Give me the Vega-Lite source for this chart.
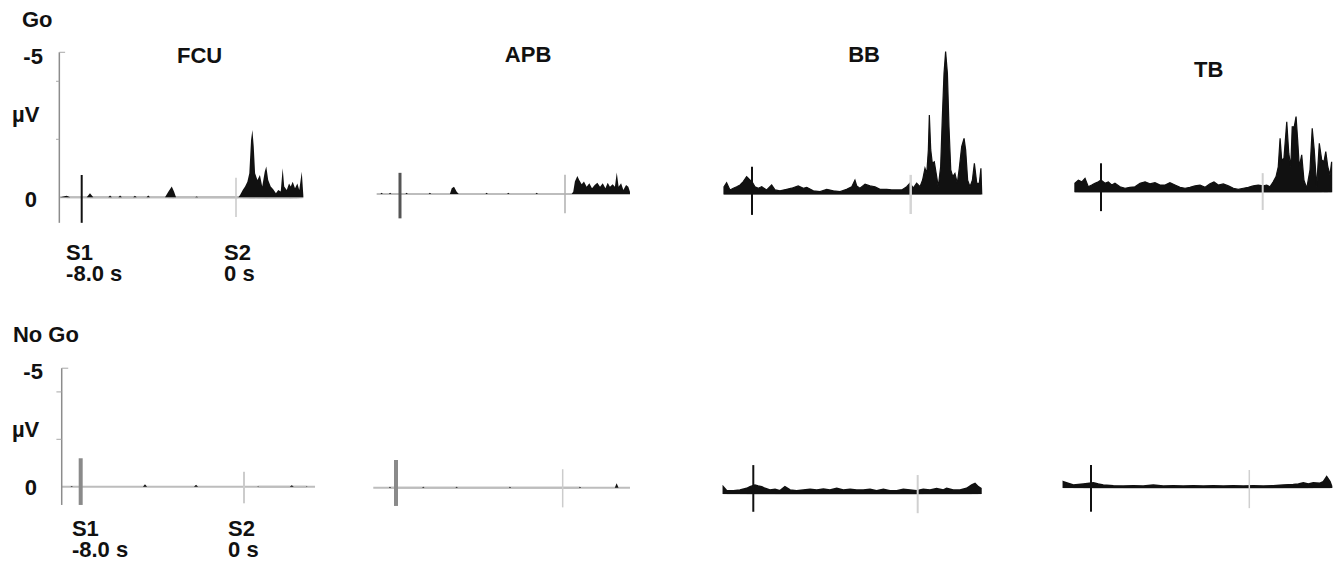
{
"$schema": "https://vega.github.io/schema/vega-lite/v6.json",
"padding": 0,
"background": "white",
"config": {"view": {"stroke": null}, "text": {"font": "Liberation Sans", "fontWeight": "bold", "fontSize": 22, "baseline": "middle", "color": "#111111", "lineHeight": 21}},
"datasets": {
"goFCU": [{"t":-9.125,"v":0},{"t":-8.78,"v":-0.05},{"t":-8.6,"v":0},{"t":-7.74,"v":0},{"t":-7.57,"v":-0.14},{"t":-7.4,"v":0},{"t":-6.62,"v":0},{"t":-6.53,"v":-0.06},{"t":-6.44,"v":0},{"t":-6.1,"v":0},{"t":-6.01,"v":-0.06},{"t":-5.92,"v":0},{"t":-5.33,"v":0},{"t":-5.24,"v":-0.05},{"t":-5.15,"v":0},{"t":-4.64,"v":0},{"t":-4.55,"v":-0.06},{"t":-4.46,"v":0},{"t":-3.68,"v":0},{"t":-3.51,"v":-0.19},{"t":-3.33,"v":-0.37},{"t":-3.21,"v":-0.19},{"t":-3.11,"v":0},{"t":-2.12,"v":0},{"t":-2.04,"v":-0.03},{"t":-1.96,"v":0},{"t":0.12,"v":0},{"t":0.21,"v":-0.08},{"t":0.35,"v":-0.25},{"t":0.47,"v":-0.37},{"t":0.59,"v":-0.54},{"t":0.69,"v":-0.83},{"t":0.78,"v":-1.98},{"t":0.85,"v":-2.32},{"t":0.92,"v":-1.75},{"t":0.99,"v":-0.83},{"t":1.11,"v":-0.6},{"t":1.24,"v":-0.77},{"t":1.36,"v":-0.37},{"t":1.49,"v":-0.88},{"t":1.57,"v":-1.06},{"t":1.67,"v":-0.6},{"t":1.8,"v":-0.37},{"t":1.93,"v":-0.28},{"t":2.07,"v":-0.14},{"t":2.19,"v":-0.25},{"t":2.32,"v":-0.2},{"t":2.42,"v":-1.0},{"t":2.5,"v":-0.37},{"t":2.63,"v":-0.25},{"t":2.75,"v":-0.48},{"t":2.84,"v":-0.37},{"t":2.94,"v":-0.54},{"t":3.06,"v":-0.31},{"t":3.18,"v":-0.48},{"t":3.28,"v":-0.25},{"t":3.41,"v":-0.88},{"t":3.49,"v":-0.08}],
"goAPB": [{"t":-9.13,"v":0},{"t":-8.95,"v":0},{"t":-8.89,"v":-0.04},{"t":-8.83,"v":0},{"t":-8.54,"v":0},{"t":-8.48,"v":-0.04},{"t":-8.42,"v":0},{"t":-7.74,"v":0},{"t":-7.68,"v":-0.04},{"t":-7.62,"v":0},{"t":-6.61,"v":0},{"t":-6.55,"v":-0.04},{"t":-6.49,"v":0},{"t":-5.58,"v":0},{"t":-5.49,"v":-0.2},{"t":-5.38,"v":-0.25},{"t":-5.25,"v":-0.08},{"t":-5.15,"v":0},{"t":-3.86,"v":0},{"t":-3.8,"v":-0.04},{"t":-3.74,"v":0},{"t":-2.81,"v":0},{"t":-2.75,"v":-0.04},{"t":-2.69,"v":0},{"t":-1.43,"v":0},{"t":-1.37,"v":-0.04},{"t":-1.31,"v":0},{"t":0.32,"v":0},{"t":0.4,"v":-0.08},{"t":0.48,"v":-0.43},{"t":0.6,"v":-0.62},{"t":0.69,"v":-0.48},{"t":0.81,"v":-0.34},{"t":0.92,"v":-0.43},{"t":1.05,"v":-0.25},{"t":1.18,"v":-0.37},{"t":1.31,"v":-0.2},{"t":1.44,"v":-0.31},{"t":1.57,"v":-0.39},{"t":1.7,"v":-0.25},{"t":1.83,"v":-0.37},{"t":1.96,"v":-0.2},{"t":2.07,"v":-0.39},{"t":2.18,"v":-0.25},{"t":2.31,"v":-0.34},{"t":2.42,"v":-0.25},{"t":2.51,"v":-0.74},{"t":2.6,"v":-0.25},{"t":2.72,"v":-0.37},{"t":2.83,"v":-0.14},{"t":2.96,"v":-0.31},{"t":3.07,"v":-0.25},{"t":3.15,"v":-0.08}],
"goBB": [{"t":-9.41,"v":-0.25},{"t":-9.28,"v":-0.39},{"t":-9.11,"v":-0.14},{"t":-8.94,"v":-0.2},{"t":-8.77,"v":-0.25},{"t":-8.6,"v":-0.31},{"t":-8.44,"v":-0.43},{"t":-8.27,"v":-0.6},{"t":-8.18,"v":-0.54},{"t":-8.1,"v":-0.48},{"t":-8.0,"v":-0.43},{"t":-7.85,"v":-0.25},{"t":-7.68,"v":-0.2},{"t":-7.51,"v":-0.25},{"t":-7.26,"v":-0.14},{"t":-7.01,"v":-0.31},{"t":-6.84,"v":-0.14},{"t":-6.59,"v":-0.11},{"t":-6.25,"v":-0.16},{"t":-6.0,"v":-0.2},{"t":-5.67,"v":-0.28},{"t":-5.41,"v":-0.2},{"t":-5.24,"v":-0.23},{"t":-4.91,"v":-0.11},{"t":-4.57,"v":-0.08},{"t":-4.23,"v":-0.16},{"t":-3.9,"v":-0.11},{"t":-3.56,"v":-0.08},{"t":-3.23,"v":-0.16},{"t":-2.97,"v":-0.25},{"t":-2.81,"v":-0.48},{"t":-2.72,"v":-0.28},{"t":-2.56,"v":-0.2},{"t":-2.3,"v":-0.34},{"t":-2.05,"v":-0.28},{"t":-1.8,"v":-0.25},{"t":-1.55,"v":-0.16},{"t":-1.21,"v":-0.16},{"t":-0.96,"v":-0.14},{"t":-0.71,"v":-0.14},{"t":-0.45,"v":-0.14},{"t":-0.2,"v":-0.25},{"t":-0.04,"v":-0.37},{"t":0.13,"v":-0.2},{"t":0.3,"v":-0.37},{"t":0.47,"v":-0.25},{"t":0.6,"v":-0.48},{"t":0.72,"v":-0.89},{"t":0.81,"v":-0.71},{"t":0.89,"v":-1.52},{"t":0.94,"v":-2.72},{"t":1.01,"v":-1.52},{"t":1.09,"v":-1.06},{"t":1.19,"v":-1.11},{"t":1.31,"v":-0.6},{"t":1.39,"v":-0.25},{"t":1.51,"v":-0.94},{"t":1.59,"v":-2.55},{"t":1.68,"v":-4.16},{"t":1.76,"v":-4.91},{"t":1.85,"v":-4.16},{"t":1.93,"v":-2.32},{"t":2.02,"v":-0.83},{"t":2.12,"v":-0.6},{"t":2.23,"v":-0.71},{"t":2.35,"v":-0.37},{"t":2.45,"v":-0.89},{"t":2.57,"v":-1.63},{"t":2.69,"v":-1.92},{"t":2.77,"v":-1.52},{"t":2.87,"v":-0.48},{"t":2.99,"v":-0.25},{"t":3.11,"v":-0.48},{"t":3.21,"v":-1.06},{"t":3.33,"v":-0.37},{"t":3.46,"v":-0.37},{"t":3.54,"v":-0.89},{"t":3.58,"v":-0.02}],
"goTB": [{"t":-9.29,"v":-0.29},{"t":-9.12,"v":-0.4},{"t":-8.95,"v":-0.34},{"t":-8.79,"v":-0.46},{"t":-8.63,"v":-0.17},{"t":-8.46,"v":-0.23},{"t":-8.3,"v":-0.29},{"t":-8.13,"v":-0.34},{"t":-8.0,"v":-0.4},{"t":-7.8,"v":-0.29},{"t":-7.64,"v":-0.34},{"t":-7.47,"v":-0.23},{"t":-7.31,"v":-0.29},{"t":-7.06,"v":-0.17},{"t":-6.81,"v":-0.12},{"t":-6.57,"v":-0.15},{"t":-6.32,"v":-0.17},{"t":-6.07,"v":-0.29},{"t":-5.82,"v":-0.34},{"t":-5.58,"v":-0.27},{"t":-5.33,"v":-0.31},{"t":-5.08,"v":-0.23},{"t":-4.83,"v":-0.23},{"t":-4.59,"v":-0.31},{"t":-4.34,"v":-0.23},{"t":-4.09,"v":-0.15},{"t":-3.84,"v":-0.12},{"t":-3.6,"v":-0.15},{"t":-3.35,"v":-0.2},{"t":-3.1,"v":-0.23},{"t":-2.85,"v":-0.15},{"t":-2.61,"v":-0.27},{"t":-2.41,"v":-0.34},{"t":-2.2,"v":-0.23},{"t":-1.95,"v":-0.27},{"t":-1.7,"v":-0.2},{"t":-1.45,"v":-0.12},{"t":-1.21,"v":-0.08},{"t":-0.96,"v":-0.12},{"t":-0.71,"v":-0.15},{"t":-0.47,"v":-0.2},{"t":-0.22,"v":-0.23},{"t":0.03,"v":-0.2},{"t":0.2,"v":-0.23},{"t":0.36,"v":-0.17},{"t":0.52,"v":-0.34},{"t":0.66,"v":-0.52},{"t":0.77,"v":-0.86},{"t":0.86,"v":-1.84},{"t":0.94,"v":-1.09},{"t":1.05,"v":-1.15},{"t":1.19,"v":-2.41},{"t":1.29,"v":-1.32},{"t":1.39,"v":-0.86},{"t":1.46,"v":-2.24},{"t":1.56,"v":-2.24},{"t":1.65,"v":-2.59},{"t":1.73,"v":-1.78},{"t":1.81,"v":-0.86},{"t":1.93,"v":-1.27},{"t":2.04,"v":-0.4},{"t":2.18,"v":-0.12},{"t":2.34,"v":-0.75},{"t":2.45,"v":-2.19},{"t":2.55,"v":-1.44},{"t":2.67,"v":-0.17},{"t":2.8,"v":-1.67},{"t":2.92,"v":-1.09},{"t":3.03,"v":-1.03},{"t":3.12,"v":-1.38},{"t":3.22,"v":-0.86},{"t":3.33,"v":-0.58},{"t":3.41,"v":-1.03}],
"ngFCU": [{"t":-8.92,"v":0},{"t":-8.5,"v":0},{"t":-8.44,"v":-0.03},{"t":-8.38,"v":0},{"t":-4.95,"v":0},{"t":-4.85,"v":-0.1},{"t":-4.75,"v":0},{"t":-2.45,"v":0},{"t":-2.35,"v":-0.08},{"t":-2.25,"v":0},{"t":0.64,"v":0},{"t":0.69,"v":-0.02},{"t":0.74,"v":0},{"t":2.24,"v":0},{"t":2.34,"v":-0.06},{"t":2.44,"v":0},{"t":3.02,"v":0},{"t":3.07,"v":-0.02},{"t":3.12,"v":0},{"t":3.48,"v":0}],
"ngAPB": [{"t":-9.09,"v":0},{"t":-8.35,"v":0},{"t":-8.29,"v":-0.04},{"t":-8.23,"v":0},{"t":-6.75,"v":0},{"t":-6.69,"v":-0.04},{"t":-6.63,"v":0},{"t":-5.15,"v":0},{"t":-5.09,"v":-0.04},{"t":-5.03,"v":0},{"t":-2.59,"v":0},{"t":-2.53,"v":-0.04},{"t":-2.47,"v":0},{"t":0.77,"v":0},{"t":0.83,"v":-0.04},{"t":0.89,"v":0},{"t":2.5,"v":0},{"t":2.59,"v":-0.19},{"t":2.68,"v":0},{"t":3.23,"v":0}],
"ngBB": [{"t":-9.46,"v":-0.28},{"t":-9.29,"v":-0.11},{"t":-8.97,"v":-0.11},{"t":-8.65,"v":-0.14},{"t":-8.32,"v":-0.21},{"t":-8.16,"v":-0.28},{"t":-7.92,"v":-0.35},{"t":-7.76,"v":-0.31},{"t":-7.59,"v":-0.28},{"t":-7.43,"v":-0.21},{"t":-7.19,"v":-0.14},{"t":-6.94,"v":-0.17},{"t":-6.7,"v":-0.11},{"t":-6.46,"v":-0.28},{"t":-6.21,"v":-0.14},{"t":-5.89,"v":-0.11},{"t":-5.57,"v":-0.14},{"t":-5.24,"v":-0.17},{"t":-4.91,"v":-0.14},{"t":-4.59,"v":-0.18},{"t":-4.27,"v":-0.14},{"t":-3.94,"v":-0.21},{"t":-3.62,"v":-0.14},{"t":-3.29,"v":-0.17},{"t":-2.97,"v":-0.14},{"t":-2.65,"v":-0.14},{"t":-2.32,"v":-0.17},{"t":-2.0,"v":-0.11},{"t":-1.67,"v":-0.17},{"t":-1.35,"v":-0.11},{"t":-1.02,"v":-0.11},{"t":-0.7,"v":-0.17},{"t":-0.37,"v":-0.14},{"t":-0.05,"v":-0.11},{"t":0.27,"v":-0.17},{"t":0.6,"v":-0.14},{"t":0.92,"v":-0.2},{"t":1.25,"v":-0.14},{"t":1.41,"v":-0.21},{"t":1.73,"v":-0.14},{"t":2.06,"v":-0.14},{"t":2.38,"v":-0.21},{"t":2.63,"v":-0.35},{"t":2.79,"v":-0.42},{"t":2.95,"v":-0.28},{"t":3.08,"v":-0.21}],
"ngTB": [{"t":-9.4,"v":-0.24},{"t":-8.89,"v":-0.1},{"t":-8.39,"v":-0.14},{"t":-7.88,"v":-0.19},{"t":-7.63,"v":-0.14},{"t":-7.38,"v":-0.1},{"t":-6.87,"v":-0.07},{"t":-6.37,"v":-0.05},{"t":-5.86,"v":-0.07},{"t":-5.36,"v":-0.05},{"t":-4.85,"v":-0.1},{"t":-4.35,"v":-0.05},{"t":-3.84,"v":-0.07},{"t":-3.34,"v":-0.05},{"t":-2.83,"v":-0.07},{"t":-2.32,"v":-0.05},{"t":-1.82,"v":-0.07},{"t":-1.31,"v":-0.05},{"t":-0.81,"v":-0.07},{"t":-0.3,"v":-0.05},{"t":0.2,"v":-0.07},{"t":0.71,"v":-0.05},{"t":1.21,"v":-0.07},{"t":1.72,"v":-0.1},{"t":2.22,"v":-0.12},{"t":2.48,"v":-0.14},{"t":2.73,"v":-0.19},{"t":2.98,"v":-0.14},{"t":3.23,"v":-0.19},{"t":3.57,"v":-0.17},{"t":3.74,"v":-0.24},{"t":3.91,"v":-0.45},{"t":4.08,"v":-0.24},{"t":4.16,"v":-0.05}]
},
"columns": 4,
"spacing": 0,
"align": "each",
"bounds": "flush",
"resolve": {"scale": {"x": "independent", "y": "independent"}},
"concat": [
{"width": 340, "height": 300,
 "encoding": {"x": {"field": "t", "type": "quantitative", "scale": {"domain": [-12.236, 5.392], "nice": false, "zero": false}, "axis": null},
              "y": {"field": "v", "type": "quantitative", "scale": {"domain": [-6.803, 3.541], "nice": false, "zero": false, "reverse": true}, "axis": null}},
 "layer": [
  {"data": {"name": "goFCU"}, "mark": {"type": "rule", "color": "#bdbdbd", "strokeWidth": 2}, "encoding": {"x": {"aggregate": "min", "field": "t", "type": "quantitative", "axis": null}, "x2": {"aggregate": "max", "field": "t"}, "y": {"datum": 0, "type": "quantitative", "axis": null}}},
  {"data": {"name": "goFCU"}, "mark": {"type": "area", "color": "#111111"}, "encoding": {"y2": {"datum": 0}}},
  {"data": {"values": [{"t": -9.16, "v": -5, "v2": 0.88}]}, "mark": {"type": "rule", "color": "#8c8c8c", "strokeWidth": 1.5}, "encoding": {"y2": {"field": "v2"}}},
  {"data": {"values": [{"t": -9.16, "t2": -8.86, "v": -5}, {"t": -9.33, "t2": -9.16, "v": -4}, {"t": -9.33, "t2": -9.16, "v": -2}]}, "mark": {"type": "rule", "color": "#a8a8a8", "strokeWidth": 1}, "encoding": {"x2": {"field": "t2"}}},
  {"data": {"values": [{"t": -8, "v": -0.77, "v2": 0.88}]}, "mark": {"type": "rule", "color": "#111111", "strokeWidth": 2}, "encoding": {"y2": {"field": "v2"}}},
  {"data": {"values": [{"t": 0, "v": -0.67, "v2": 0.68}]}, "mark": {"type": "rule", "color": "#c8c8c8", "strokeWidth": 1.5}, "encoding": {"y2": {"field": "v2"}}},
  {"data": {"values": [{"txt": "Go", "t": -11.1, "v": -6.1}, {"txt": "µV", "t": -11.61, "v": -2.85}, {"txt": ["S1", "-8.0 s"], "t": -8.81, "v": 1.92}, {"txt": ["S2", "0 s"], "t": -0.62, "v": 1.92}]}, "mark": {"type": "text", "align": "left"}, "encoding": {"text": {"field": "txt", "type": "nominal"}}},
  {"data": {"values": [{"txt": "-5", "t": -10.01, "v": -4.85}, {"txt": "0", "t": -10.32, "v": 0.09}]}, "mark": {"type": "text", "align": "right"}, "encoding": {"text": {"field": "txt", "type": "nominal"}}},
  {"data": {"values": [{"txt": "FCU", "t": -1.89, "v": -4.87}]}, "mark": {"type": "text", "align": "center"}, "encoding": {"text": {"field": "txt", "type": "nominal"}}}
 ]},
{"width": 350, "height": 300,
 "encoding": {"x": {"field": "t", "type": "quantitative", "scale": {"domain": [-10.909, 6.061], "nice": false, "zero": false}, "axis": null},
              "y": {"field": "v", "type": "quantitative", "scale": {"domain": [-6.69, 3.655], "nice": false, "zero": false, "reverse": true}, "axis": null}},
 "layer": [
  {"data": {"name": "goAPB"}, "mark": {"type": "rule", "color": "#bdbdbd", "strokeWidth": 2}, "encoding": {"x": {"aggregate": "min", "field": "t", "type": "quantitative", "axis": null}, "x2": {"aggregate": "max", "field": "t"}, "y": {"datum": 0, "type": "quantitative", "axis": null}}},
  {"data": {"name": "goAPB"}, "mark": {"type": "area", "color": "#111111"}, "encoding": {"y2": {"datum": 0}}},
  {"data": {"values": [{"t": -8, "v": -0.73, "v2": 0.84}]}, "mark": {"type": "rule", "color": "#555555", "strokeWidth": 3}, "encoding": {"y2": {"field": "v2"}}},
  {"data": {"values": [{"t": 0, "v": -0.66, "v2": 0.66}]}, "mark": {"type": "rule", "color": "#b0b0b0", "strokeWidth": 1.5}, "encoding": {"y2": {"field": "v2"}}},
  {"data": {"values": [{"txt": "APB", "t": -1.79, "v": -4.81}]}, "mark": {"type": "text", "align": "center"}, "encoding": {"text": {"field": "txt", "type": "nominal"}}}
 ]},
{"width": 350, "height": 300,
 "encoding": {"x": {"field": "t", "type": "quantitative", "scale": {"domain": [-11.125, 6.518], "nice": false, "zero": false}, "axis": null},
              "y": {"field": "v", "type": "quantitative", "scale": {"domain": [-6.69, 3.655], "nice": false, "zero": false, "reverse": true}, "axis": null}},
 "layer": [
  {"data": {"name": "goBB"}, "mark": {"type": "rule", "color": "#bdbdbd", "strokeWidth": 2}, "encoding": {"x": {"aggregate": "min", "field": "t", "type": "quantitative", "axis": null}, "x2": {"aggregate": "max", "field": "t"}, "y": {"datum": 0, "type": "quantitative", "axis": null}}},
  {"data": {"name": "goBB"}, "mark": {"type": "area", "fill": "#111111", "stroke": "#111111", "strokeWidth": 1.2}, "encoding": {"y2": {"datum": 0}}},
  {"data": {"values": [{"t": -8, "v": -0.94, "v2": 0.72}]}, "mark": {"type": "rule", "color": "#111111", "strokeWidth": 2}, "encoding": {"y2": {"field": "v2"}}},
  {"data": {"values": [{"t": 0, "v": -0.66, "v2": 0.69}]}, "mark": {"type": "rule", "color": "#d5d5d5", "strokeWidth": 2.5}, "encoding": {"y2": {"field": "v2"}}},
  {"data": {"values": [{"txt": "BB", "t": -2.35, "v": -4.79}]}, "mark": {"type": "text", "align": "center"}, "encoding": {"text": {"field": "txt", "type": "nominal"}}}
 ]},
{"width": 304, "height": 300,
 "encoding": {"x": {"field": "t", "type": "quantitative", "scale": {"domain": [-11.018, 4.022], "nice": false, "zero": false}, "axis": null},
              "y": {"field": "v", "type": "quantitative", "scale": {"domain": [-6.61, 3.734], "nice": false, "zero": false, "reverse": true}, "axis": null}},
 "layer": [
  {"data": {"name": "goTB"}, "mark": {"type": "rule", "color": "#bdbdbd", "strokeWidth": 2}, "encoding": {"x": {"aggregate": "min", "field": "t", "type": "quantitative", "axis": null}, "x2": {"aggregate": "max", "field": "t"}, "y": {"datum": 0, "type": "quantitative", "axis": null}}},
  {"data": {"name": "goTB"}, "mark": {"type": "area", "fill": "#111111", "stroke": "#111111", "strokeWidth": 1.2}, "encoding": {"y2": {"datum": 0}}},
  {"data": {"values": [{"t": -8, "v": -0.98, "v2": 0.67}]}, "mark": {"type": "rule", "color": "#111111", "strokeWidth": 2}, "encoding": {"y2": {"field": "v2"}}},
  {"data": {"values": [{"t": 0, "v": -0.64, "v2": 0.63}]}, "mark": {"type": "rule", "color": "#d0d0d0", "strokeWidth": 2}, "encoding": {"y2": {"field": "v2"}}},
  {"data": {"values": [{"txt": "TB", "t": -2.67, "v": -4.2}]}, "mark": {"type": "text", "align": "center"}, "encoding": {"text": {"field": "txt", "type": "nominal"}}}
 ]},
{"width": 340, "height": 272,
 "encoding": {"x": {"field": "t", "type": "quantitative", "scale": {"domain": [-11.953, 4.703], "nice": false, "zero": false}, "axis": null},
              "y": {"field": "v", "type": "quantitative", "scale": {"domain": [-7.878, 3.599], "nice": false, "zero": false, "reverse": true}, "axis": null}},
 "layer": [
  {"data": {"name": "ngFCU"}, "mark": {"type": "rule", "color": "#bdbdbd", "strokeWidth": 2}, "encoding": {"x": {"aggregate": "min", "field": "t", "type": "quantitative", "axis": null}, "x2": {"aggregate": "max", "field": "t"}, "y": {"datum": 0, "type": "quantitative", "axis": null}}},
  {"data": {"name": "ngFCU"}, "mark": {"type": "area", "color": "#111111"}, "encoding": {"y2": {"datum": 0}}},
  {"data": {"values": [{"t": -8.93, "v": -5, "v2": 0.77}]}, "mark": {"type": "rule", "color": "#8c8c8c", "strokeWidth": 1.5}, "encoding": {"y2": {"field": "v2"}}},
  {"data": {"values": [{"t": -8.93, "t2": -8.61, "v": -5}, {"t": -9.19, "t2": -8.93, "v": -4}, {"t": -9.19, "t2": -8.93, "v": -2}]}, "mark": {"type": "rule", "color": "#a8a8a8", "strokeWidth": 1}, "encoding": {"x2": {"field": "t2"}}},
  {"data": {"values": [{"t": -8, "v": -1.2, "v2": 0.77}]}, "mark": {"type": "rule", "color": "#8a8a8a", "strokeWidth": 4}, "encoding": {"y2": {"field": "v2"}}},
  {"data": {"values": [{"t": 0, "v": -0.63, "v2": 0.7}]}, "mark": {"type": "rule", "color": "#cccccc", "strokeWidth": 2}, "encoding": {"y2": {"field": "v2"}}},
  {"data": {"values": [{"txt": "No Go", "t": -11.32, "v": -6.4}, {"txt": "µV", "t": -11.37, "v": -2.39}, {"txt": ["S1", "-8.0 s"], "t": -8.43, "v": 1.78}, {"txt": ["S2", "0 s"], "t": -0.78, "v": 1.78}]}, "mark": {"type": "text", "align": "left"}, "encoding": {"text": {"field": "txt", "type": "nominal"}}},
  {"data": {"values": [{"txt": "-5", "t": -9.85, "v": -4.84}, {"txt": "0", "t": -10.14, "v": 0.05}]}, "mark": {"type": "text", "align": "right"}, "encoding": {"text": {"field": "txt", "type": "nominal"}}}
 ]},
{"width": 350, "height": 272,
 "encoding": {"x": {"field": "t", "type": "quantitative", "scale": {"domain": [-10.687, 6.11], "nice": false, "zero": false}, "axis": null},
              "y": {"field": "v", "type": "quantitative", "scale": {"domain": [-7.92, 3.557], "nice": false, "zero": false, "reverse": true}, "axis": null}},
 "layer": [
  {"data": {"name": "ngAPB"}, "mark": {"type": "rule", "color": "#bdbdbd", "strokeWidth": 2}, "encoding": {"x": {"aggregate": "min", "field": "t", "type": "quantitative", "axis": null}, "x2": {"aggregate": "max", "field": "t"}, "y": {"datum": 0, "type": "quantitative", "axis": null}}},
  {"data": {"name": "ngAPB"}, "mark": {"type": "area", "color": "#111111"}, "encoding": {"y2": {"datum": 0}}},
  {"data": {"values": [{"t": -8, "v": -1.17, "v2": 0.77}]}, "mark": {"type": "rule", "color": "#8a8a8a", "strokeWidth": 4}, "encoding": {"y2": {"field": "v2"}}},
  {"data": {"values": [{"t": 0, "v": -0.78, "v2": 0.83}]}, "mark": {"type": "rule", "color": "#cccccc", "strokeWidth": 1.5}, "encoding": {"y2": {"field": "v2"}}}
 ]},
{"width": 350, "height": 272,
 "encoding": {"x": {"field": "t", "type": "quantitative", "scale": {"domain": [-11.08, 5.952], "nice": false, "zero": false}, "axis": null},
              "y": {"field": "v", "type": "quantitative", "scale": {"domain": [-8.156, 3.321], "nice": false, "zero": false, "reverse": true}, "axis": null}},
 "layer": [
  {"data": {"name": "ngBB"}, "mark": {"type": "rule", "color": "#bdbdbd", "strokeWidth": 2}, "encoding": {"x": {"aggregate": "min", "field": "t", "type": "quantitative", "axis": null}, "x2": {"aggregate": "max", "field": "t"}, "y": {"datum": 0, "type": "quantitative", "axis": null}}},
  {"data": {"name": "ngBB"}, "mark": {"type": "area", "fill": "#111111", "stroke": "#111111", "strokeWidth": 1.5}, "encoding": {"y2": {"datum": 0}}},
  {"data": {"values": [{"t": -8, "v": -1.19, "v2": 0.78}]}, "mark": {"type": "rule", "color": "#111111", "strokeWidth": 2}, "encoding": {"y2": {"field": "v2"}}},
  {"data": {"values": [{"t": 0, "v": -0.77, "v2": 0.84}]}, "mark": {"type": "rule", "color": "#d0d0d0", "strokeWidth": 2}, "encoding": {"y2": {"field": "v2"}}}
 ]},
{"width": 304, "height": 272,
 "encoding": {"x": {"field": "t", "type": "quantitative", "scale": {"domain": [-10.577, 4.786], "nice": false, "zero": false}, "axis": null},
              "y": {"field": "v", "type": "quantitative", "scale": {"domain": [-7.903, 3.574], "nice": false, "zero": false, "reverse": true}, "axis": null}},
 "layer": [
  {"data": {"name": "ngTB"}, "mark": {"type": "rule", "color": "#bdbdbd", "strokeWidth": 2}, "encoding": {"x": {"aggregate": "min", "field": "t", "type": "quantitative", "axis": null}, "x2": {"aggregate": "max", "field": "t"}, "y": {"datum": 0, "type": "quantitative", "axis": null}}},
  {"data": {"name": "ngTB"}, "mark": {"type": "area", "fill": "#111111", "stroke": "#111111", "strokeWidth": 1.5}, "encoding": {"y2": {"datum": 0}}},
  {"data": {"values": [{"t": -8, "v": -0.94, "v2": 1.03}]}, "mark": {"type": "rule", "color": "#111111", "strokeWidth": 2}, "encoding": {"y2": {"field": "v2"}}},
  {"data": {"values": [{"t": 0, "v": -0.73, "v2": 0.88}]}, "mark": {"type": "rule", "color": "#d0d0d0", "strokeWidth": 1.5}, "encoding": {"y2": {"field": "v2"}}}
 ]}
]
}
